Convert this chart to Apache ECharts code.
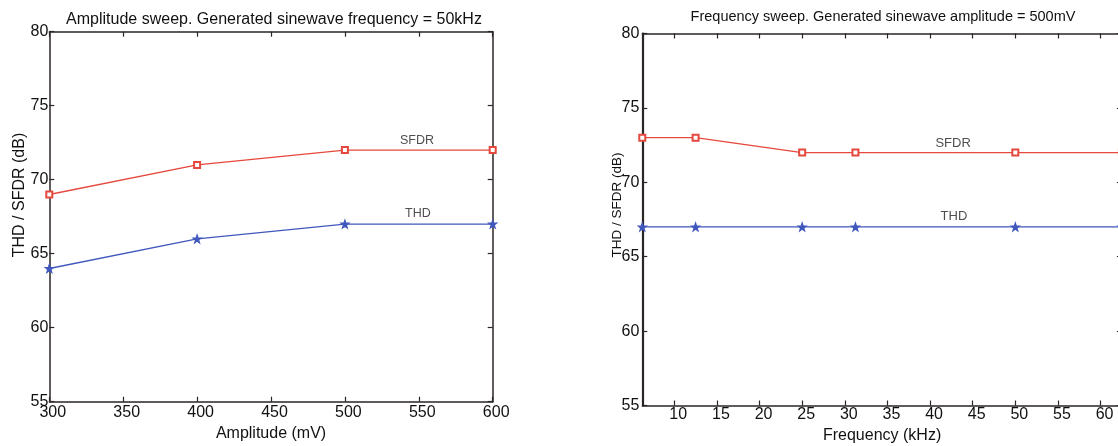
<!DOCTYPE html>
<html>
<head>
<meta charset="utf-8">
<script src="https://cdn.jsdelivr.net/npm/echarts@6/dist/echarts.min.js"></script>
<style>
html,body{margin:0;padding:0;background:#fff;}
#chart{width:1118px;height:446px;}
</style>
</head>
<body>
<div id="chart"></div>
<script>
// ---- data ----
const ampX = [300, 400, 500, 600];
const ampSFDR = [69, 71, 72, 72];
const ampTHD = [64, 66, 67, 67];
const freqX = [6.25, 12.5, 25, 31.25, 50, 62.5];
const freqSFDR = [73, 73, 72, 72, 72, 72];
const freqTHD = [67, 67, 67, 67, 67, 67];
const freqTicks = [10, 15, 20, 25, 30, 35, 40, 45, 50, 55, 60];
const titles = ['Amplitude sweep. Generated sinewave frequency = 50kHz', 'Frequency sweep. Generated sinewave amplitude = 500mV'];
const xNames = ['Amplitude (mV)', 'Frequency (kHz)'];
const yName = 'THD / SFDR (dB)';
const seriesNames = ['SFDR', 'THD'];

// ---- styles ----
const FONT = '"Liberation Sans", Arial, sans-serif';
const RED = '#e5483c';
const BLUE = '#4058bd';
const AX = '#2b2626';
const STAR = 'path://M0,-10 L2.35,-3.24 L9.51,-3.09 L3.8,1.24 L5.88,8.09 L0,4 L-5.88,8.09 L-3.8,1.24 L-9.51,-3.09 L-2.35,-3.24 Z';

const zip = (xs, ys) => xs.map((x, i) => [x, ys[i]]);

function boxAxis(extra) {
  return Object.assign({
    type: 'value',
    axisLine: { show: true, onZero: false, lineStyle: { color: AX, width: 1.5 } },
    axisTick: { show: true, inside: true, length: 5, lineStyle: { color: AX, width: 1.2 } },
    axisLabel: { show: false },
    splitLine: { show: false }
  }, extra);
}

const tickLabel = (extra) => Object.assign({ show: true, color: '#111', fontFamily: FONT, fontSize: 16 }, extra);

function lineSeries(name, xi, yi, data, color, symbol, size) {
  return {
    type: 'line', name: name, xAxisIndex: xi, yAxisIndex: yi,
    data: data, symbol: symbol, symbolSize: size, showSymbol: true,
    lineStyle: { color: color, width: 1.3 },
    itemStyle: { color: color, borderColor: color, borderWidth: 1.2 },
    animation: false
  };
}

// in-plot series name annotations (anchor in data coordinates)
function nameLabel(name, xi, yi, anchor, fs) {
  return {
    type: 'scatter', xAxisIndex: xi, yAxisIndex: yi, silent: true,
    data: [anchor], symbolSize: 1,
    itemStyle: { color: 'rgba(0,0,0,0)' },
    label: { show: true, position: 'inside', formatter: name, color: '#222', fontFamily: FONT, fontSize: fs },
    animation: false
  };
}

const chart = echarts.init(document.getElementById('chart'));
chart.setOption({
  backgroundColor: '#fff',
  animation: false,
  grid: [
    { left: 49.3, top: 31.7, width: 443.4, height: 370, outerBoundsMode: 'none' },
    { left: 642.3, top: 33.5, width: 479.6, height: 372, outerBoundsMode: 'none' }
  ],
  xAxis: [
    boxAxis({ gridIndex: 0, position: 'bottom', min: 300, max: 600, interval: 50,
      axisLabel: tickLabel({ margin: 3, padding: [0, 0, 0, 7] }),
      name: xNames[0], nameLocation: 'middle', nameGap: 21,
      nameTextStyle: { color: '#111', fontFamily: FONT, fontSize: 16 } }),
    boxAxis({ gridIndex: 0, position: 'top', min: 300, max: 600, interval: 50 }),
    boxAxis({ gridIndex: 1, position: 'bottom', min: 6.25, max: 62.5,
      axisTick: { show: true, inside: true, length: 5, customValues: freqTicks, lineStyle: { color: AX, width: 1.2 } },
      axisLabel: tickLabel({ margin: 1, customValues: freqTicks, padding: [0, 0, 0, 8] }),
      name: xNames[1], nameLocation: 'middle', nameGap: 19.5,
      nameTextStyle: { color: '#111', fontFamily: FONT, fontSize: 16 } }),
    boxAxis({ gridIndex: 1, position: 'top', min: 6.25, max: 62.5,
      axisTick: { show: true, inside: true, length: 5, customValues: freqTicks, lineStyle: { color: AX, width: 1.2 } } })
  ],
  yAxis: [
    boxAxis({ gridIndex: 0, position: 'left', min: 55, max: 80, interval: 5,
      axisLabel: tickLabel({ margin: 1 }) }),
    boxAxis({ gridIndex: 0, position: 'right', min: 55, max: 80, interval: 5 }),
    boxAxis({ gridIndex: 1, position: 'left', min: 55, max: 80, interval: 5,
      axisLine: { show: true, onZero: false, lineStyle: { color: AX, width: 2.2 } },
      axisLabel: tickLabel({ margin: 3 }) }),
    boxAxis({ gridIndex: 1, position: 'right', min: 55, max: 80, interval: 5 })
  ],
  graphic: [
    { type: 'text', x: 274, y: 19.5, style: { text: titles[0], fill: '#111', font: '16px ' + FONT, align: 'center', verticalAlign: 'middle' } },
    { type: 'text', x: 883, y: 17, style: { text: titles[1], fill: '#111', font: '14.5px ' + FONT, align: 'center', verticalAlign: 'middle' } },
    { type: 'text', x: 20, y: 195, rotation: Math.PI / 2, style: { text: yName, fill: '#111', font: '16px ' + FONT, align: 'center', verticalAlign: 'middle' } },
    { type: 'text', x: 617, y: 205, rotation: Math.PI / 2, style: { text: yName, fill: '#111', font: '13.5px ' + FONT, align: 'center', verticalAlign: 'middle' } }
  ],
  series: [
    lineSeries(seriesNames[0], 0, 0, zip(ampX, ampSFDR), RED, 'emptyRect', 6),
    lineSeries(seriesNames[1], 0, 0, zip(ampX, ampTHD), BLUE, STAR, 8),
    lineSeries(seriesNames[0], 2, 2, zip(freqX, freqSFDR), RED, 'emptyRect', 6),
    lineSeries(seriesNames[1], 2, 2, zip(freqX, freqTHD), BLUE, STAR, 8),
    nameLabel(seriesNames[0], 0, 0, [548.8, 72.64], 12.5),
    nameLabel(seriesNames[1], 0, 0, [549.4, 67.68], 12.5),
    nameLabel(seriesNames[0], 2, 2, [42.7, 72.64], 13),
    nameLabel(seriesNames[1], 2, 2, [42.8, 67.69], 13)
  ]
});
</script>
</body>
</html>
